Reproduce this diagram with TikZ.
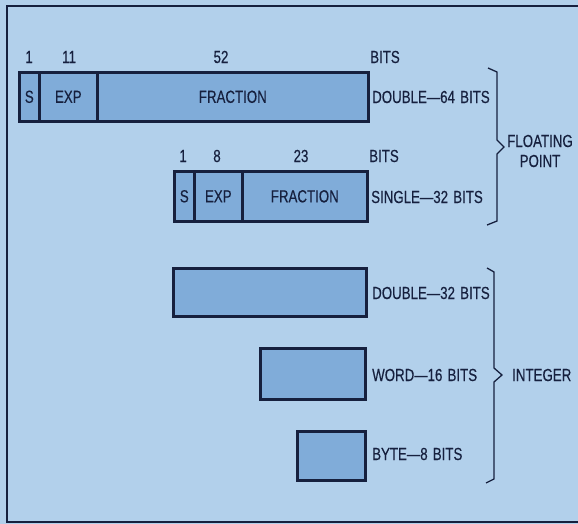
\documentclass[tikz,border=0pt]{standalone}
\usepackage{fontspec}
\setmainfont{Liberation Sans}[FakeStretch=0.76,FakeBold=0.3,WordSpace=1.4]
\definecolor{bg}{RGB}{178,208,235}
\definecolor{boxfill}{RGB}{128,172,217}
\definecolor{ink}{RGB}{22,32,62}
\begin{document}
\begin{tikzpicture}[x=1pt,y=-1pt,
  fld/.style={draw=ink, line width=2.6pt, fill=boxfill, inner sep=0pt, anchor=north west, text=ink, font=\fontsize{17.5}{19}\selectfont},
  lbl/.style={inner sep=0pt, text=ink, font=\fontsize{17.5}{19}\selectfont},
  llbl/.style={lbl, anchor=west},
  brace/.style={draw=ink, line width=1.3pt, line join=miter}]
\useasboundingbox (0,0) rectangle (578,524);
\fill[bg] (0,0) rectangle (578,524);
\draw[ink, line width=2pt] (578,6) -- (7,6) -- (7,522) -- (578,522);
% double 64
\node[lbl] (h1) at (29,57) {1};
\node[lbl] (h11) at (69,57) {11};
\node[lbl] (h52) at (221,57) {52};
\node[llbl] (hb1) at (370,57) {BITS};
\node[fld, minimum width=20pt, minimum height=49pt] (ds) at (18,71) {S};
\node[fld, minimum width=58pt, minimum height=49pt] (de) at (38,71) {EXP};
\node[fld, minimum width=271pt, minimum height=49pt] (df) at (96,71) {FRACTION};
\node[llbl] (dl) at (372,97) {DOUBLE—64 BITS};
% single 32
\node[lbl] (g1) at (183,156) {1};
\node[lbl] (g8) at (217,156) {8};
\node[lbl] (g23) at (301,156) {23};
\node[llbl] (hb2) at (369,156) {BITS};
\node[fld, minimum width=20pt, minimum height=50pt] (ss) at (173,170) {S};
\node[fld, minimum width=48pt, minimum height=50pt] (se) at (193,170) {EXP};
\node[fld, minimum width=125pt, minimum height=50pt] (sf) at (241,170) {FRACTION};
\node[llbl] (sl) at (371,197) {SINGLE—32 BITS};
% floating brace
\coordinate (fb1) at (488,68);
\coordinate (fb2) at (497,72);
\coordinate (fb3) at (497,140);
\coordinate (fbt) at (504,147);
\coordinate (fb4) at (497,154);
\coordinate (fb5) at (497,221);
\coordinate (fb6) at (487,225);
\draw[brace] (fb1) -- (fb2) -- (fb3) -- (fbt) -- (fb4) -- (fb5) -- (fb6);
\node[lbl, align=center] (fp) at (540,151) {FLOATING\\[1pt]POINT};
% integers
\node[fld, minimum width=193pt, minimum height=48pt] (i32) at (172,267) {};
\node[llbl] (l32) at (372,293) {DOUBLE—32 BITS};
\node[fld, minimum width=105pt, minimum height=51pt] (i16) at (259,347) {};
\node[llbl] (l16) at (372,375) {WORD—16 BITS};
\node[fld, minimum width=68pt, minimum height=49pt] (i8) at (296,430) {};
\node[llbl] (l8) at (372,454) {BYTE—8 BITS};
\coordinate (ib1) at (487,268);
\coordinate (ib2) at (494,272);
\coordinate (ib3) at (494,368);
\coordinate (ibt) at (502,375);
\coordinate (ib4) at (494,382);
\coordinate (ib5) at (494,479);
\coordinate (ib6) at (486,483);
\draw[brace] (ib1) -- (ib2) -- (ib3) -- (ibt) -- (ib4) -- (ib5) -- (ib6);
\node[llbl] (int) at (512,375) {INTEGER};
\end{tikzpicture}
\end{document}
